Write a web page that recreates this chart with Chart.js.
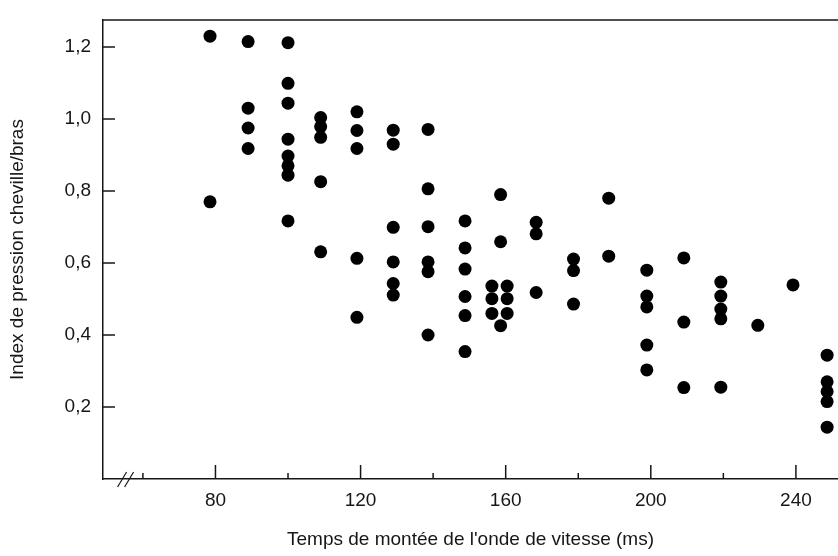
<!DOCTYPE html>
<html>
<head>
<meta charset="utf-8">
<script src="https://cdn.jsdelivr.net/npm/chart.js@4.4.1/dist/chart.umd.min.js"></script>
<style>
  html, body { margin: 0; padding: 0; background: #fff; }
  #wrap { width: 838px; height: 556px; }
</style>
</head>
<body>
<div id="wrap"><canvas id="scatter"></canvas></div>
<script>
// rise time of the velocity wave (ms), one entry per column of dots
const riseTimes = [78.5, 89, 100, 109, 119, 129, 138.6, 148.8, 156.2, 158.6,
                   160.4, 168.4, 178.7, 188.4, 198.9, 209.1, 219.3, 229.5, 239.2, 248.6];

// ankle/arm pressure index for each column above
const pressureIndex = [
    [1.23, 0.77],
    [1.215, 1.03, 0.975, 0.918],
    [1.212, 1.099, 1.044, 0.944, 0.897, 0.87, 0.844, 0.717],
    [1.004, 0.979, 0.949, 0.826, 0.631],
    [1.02, 0.968, 0.918, 0.613, 0.449],
    [0.969, 0.93, 0.699, 0.603, 0.543, 0.511],
    [0.971, 0.806, 0.701, 0.603, 0.576, 0.40],
    [0.717, 0.642, 0.583, 0.507, 0.454, 0.354],
    [0.536, 0.501, 0.46],
    [0.79, 0.659, 0.426],
    [0.536, 0.501, 0.46],
    [0.713, 0.681, 0.518],
    [0.611, 0.579, 0.486],
    [0.78, 0.619],
    [0.58, 0.508, 0.478, 0.372, 0.303],
    [0.614, 0.436, 0.254],
    [0.547, 0.508, 0.472, 0.445, 0.255],
    [0.427],
    [0.539],
    [0.344, 0.27, 0.243, 0.215, 0.144]
];

const xTicks = [60, 80, 100, 120, 140, 160, 180, 200, 220, 240];
const xLabelled = [80, 120, 160, 200, 240];
const yTicks = [0.2, 0.4, 0.6, 0.8, 1.0, 1.2];

const points = [];
riseTimes.forEach(function (t, i) {
    pressureIndex[i].forEach(function (v) {
        points.push({ x: t, y: v });
    });
});

const ink = '#161616';
const fontFamily = '"Liberation Sans", Arial, Helvetica, sans-serif';

// inward tick marks, top frame line and the axis break
const framePlugin = {
    id: 'frame',
    afterDraw: function (chart) {
        const ctx = chart.ctx;
        const area = chart.chartArea;
        const xs = chart.scales.x;
        const ys = chart.scales.y;
        ctx.save();
        ctx.strokeStyle = ink;
        ctx.lineWidth = 1.5;

        ctx.beginPath();
        ctx.moveTo(area.left, area.top);
        ctx.lineTo(area.right, area.top);
        ctx.stroke();

        xTicks.forEach(function (v) {
            const px = xs.getPixelForValue(v);
            const len = xLabelled.indexOf(v) >= 0 ? 14 : 6;
            ctx.beginPath();
            ctx.moveTo(px, area.bottom);
            ctx.lineTo(px, area.bottom - len);
            ctx.stroke();
        });
        yTicks.forEach(function (v) {
            const py = ys.getPixelForValue(v);
            ctx.beginPath();
            ctx.moveTo(area.left, py);
            ctx.lineTo(area.left + 12, py);
            ctx.stroke();
        });

        const bx = xs.getPixelForValue(55.5);
        ctx.lineWidth = 1.2;
        [-4, 3].forEach(function (d) {
            ctx.beginPath();
            ctx.moveTo(bx + d - 5, area.bottom + 8);
            ctx.lineTo(bx + d + 4, area.bottom - 7);
            ctx.stroke();
        });
        ctx.restore();
    }
};

new Chart(document.getElementById('scatter').getContext('2d'), {
    type: 'scatter',
    data: {
        datasets: [{
            data: points,
            pointRadius: 6.5,
            pointHoverRadius: 6.5,
            pointBackgroundColor: '#000',
            pointBorderWidth: 0
        }]
    },
    options: {
        responsive: true,
        maintainAspectRatio: false,
        animation: false,
        layout: { autoPadding: false, padding: { top: 20, right: 0, bottom: 0, left: 0 } },
        plugins: {
            legend: { display: false },
            tooltip: { enabled: false }
        },
        scales: {
            x: {
                type: 'linear',
                min: 49,
                max: 251.6,
                afterBuildTicks: function (scale) {
                    scale.ticks = xTicks.map(function (v) { return { value: v }; });
                },
                afterFit: function (scale) {
                    scale.height = 77;
                    scale.paddingLeft = 0;
                    scale.paddingRight = 0;
                },
                grid: { display: true, drawOnChartArea: false, drawTicks: false },
                border: { display: true, color: ink, width: 1.5 },
                ticks: {
                    autoSkip: false,
                    maxRotation: 0,
                    padding: 10,
                    color: ink,
                    font: { family: fontFamily, size: 19 },
                    callback: function (v) { return xLabelled.indexOf(v) >= 0 ? String(v) : ''; }
                },
                title: {
                    display: true,
                    text: "Temps de montée de l'onde de vitesse (ms)",
                    color: ink,
                    padding: { top: 0, bottom: 5 },
                    font: { family: fontFamily, size: 19 }
                }
            },
            y: {
                type: 'linear',
                min: 0,
                max: 1.275,
                afterBuildTicks: function (scale) {
                    scale.ticks = yTicks.map(function (v) { return { value: v }; });
                },
                afterFit: function (scale) {
                    scale.width = 103;
                    scale.paddingTop = 0;
                    scale.paddingBottom = 0;
                },
                grid: { display: true, drawOnChartArea: false, drawTicks: false },
                border: { display: true, color: ink, width: 1.5 },
                ticks: {
                    padding: 12,
                    color: ink,
                    font: { family: fontFamily, size: 19 },
                    callback: function (v) { return v.toFixed(1).replace('.', ','); }
                },
                title: {
                    display: true,
                    text: 'Index de pression cheville/bras',
                    color: ink,
                    padding: { top: 6, bottom: 0 },
                    font: { family: fontFamily, size: 19 }
                }
            }
        }
    },
    plugins: [framePlugin]
});
</script>
</body>
</html>
